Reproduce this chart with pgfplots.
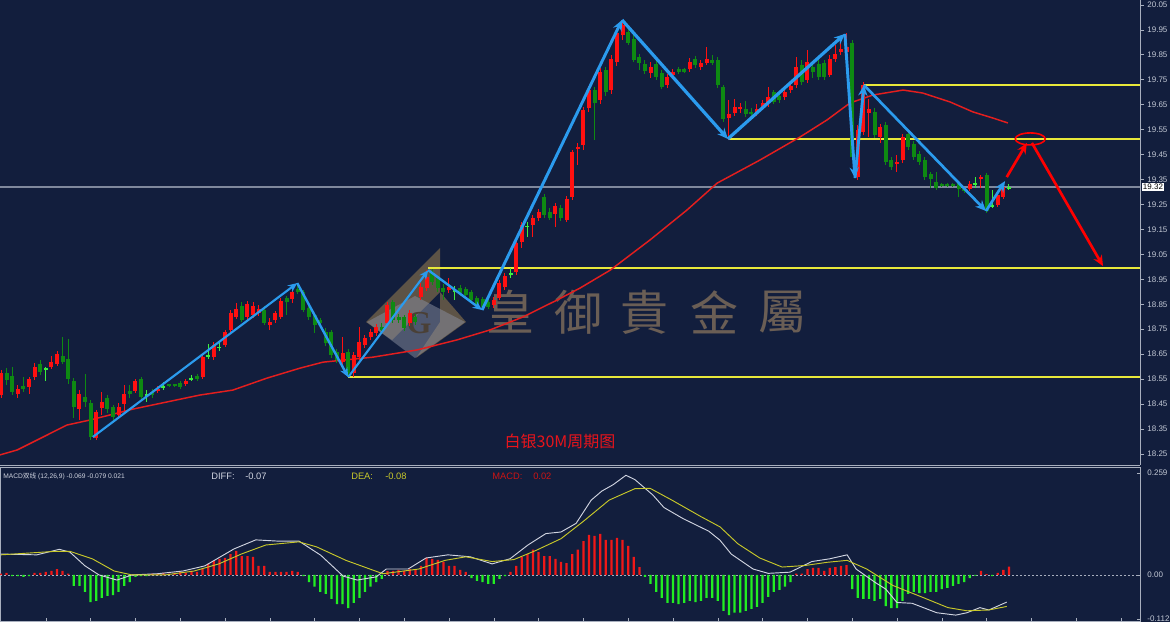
\documentclass[border=0pt]{standalone}
\usepackage{pgfplots}
\pgfplotsset{compat=1.18}
\usepackage{pgfplotstable}
\usepackage{fontspec}
\setmainfont{Liberation Sans}
\newfontfamily\serifg{Liberation Serif}
\newfontfamily\cjk{Noto Sans CJK SC}
\newfontfamily\cjktc{Noto Sans CJK TC}
\usetikzlibrary{arrows.meta}
\definecolor{bg}{HTML}{121E3D}
\definecolor{candlered}{HTML}{FF1010}
\definecolor{candlegreen}{HTML}{0E8A12}
\definecolor{dojigreen}{HTML}{3CF03C}
\definecolor{zzblue}{HTML}{2B9BEE}
\definecolor{axgray}{HTML}{A8AFBE}
\definecolor{ticktext}{HTML}{C4CAD6}
\definecolor{lvl}{HTML}{E8E83A}
\definecolor{marea}{HTML}{E41E1E}
\definecolor{pricegray}{HTML}{7F889C}
\definecolor{wm}{HTML}{6A5E55}
\definecolor{logogold}{HTML}{A88850}
\definecolor{logogray}{HTML}{8A90A2}
\definecolor{logoG}{HTML}{4A4036}
\definecolor{diffc}{HTML}{D0D4E0}
\definecolor{deac}{HTML}{C8C82A}
\definecolor{histred}{HTML}{F01818}
\definecolor{histgreen}{HTML}{22EE22}
\definecolor{titlered}{HTML}{E8141B}

\pgfplotstableread{
i o h l c
0 18.486 18.586 18.474 18.574
3 18.490 18.526 18.474 18.510
5 18.518 18.558 18.490 18.550
6 18.558 18.614 18.546 18.598
9 18.598 18.642 18.590 18.618
10 18.610 18.663 18.602 18.650
14 18.430 18.506 18.386 18.490
17 18.314 18.426 18.306 18.418
18 18.434 18.498 18.406 18.458
21 18.406 18.454 18.394 18.438
22 18.450 18.526 18.418 18.490
24 18.502 18.550 18.494 18.542
28 18.502 18.522 18.494 18.510
33 18.530 18.550 18.522 18.542
36 18.558 18.646 18.550 18.638
38 18.638 18.699 18.626 18.687
40 18.687 18.747 18.679 18.739
41 18.747 18.827 18.735 18.815
42 18.799 18.855 18.791 18.831
44 18.799 18.863 18.787 18.851
45 18.807 18.859 18.795 18.843
46 18.815 18.847 18.803 18.831
48 18.767 18.795 18.747 18.779
49 18.787 18.823 18.775 18.815
50 18.799 18.875 18.791 18.863
52 18.871 18.915 18.855 18.899
61 18.618 18.719 18.606 18.655
63 18.574 18.659 18.558 18.646
64 18.638 18.759 18.626 18.699
65 18.687 18.727 18.675 18.715
66 18.719 18.751 18.707 18.739
67 18.735 18.771 18.723 18.759
69 18.775 18.859 18.763 18.847
73 18.775 18.827 18.763 18.815
75 18.879 18.935 18.867 18.919
76 18.915 18.987 18.903 18.959
80 18.907 18.955 18.895 18.919
88 18.847 18.879 18.835 18.867
89 18.875 18.947 18.867 18.935
90 18.919 18.975 18.907 18.963
92 18.979 19.108 18.967 19.096
93 19.100 19.180 19.076 19.168
95 19.168 19.208 19.120 19.196
96 19.196 19.232 19.184 19.220
99 19.212 19.256 19.160 19.244
101 19.188 19.284 19.180 19.272
102 19.280 19.468 19.268 19.460
103 19.473 19.497 19.408 19.481
104 19.489 19.641 19.468 19.629
105 19.637 19.725 19.621 19.709
107 19.669 19.797 19.653 19.781
109 19.709 19.849 19.693 19.833
110 19.821 19.958 19.805 19.938
111 19.930 19.990 19.910 19.970
116 19.777 19.821 19.757 19.801
119 19.729 19.773 19.717 19.761
120 19.769 19.793 19.757 19.781
123 19.793 19.837 19.781 19.821
125 19.801 19.829 19.789 19.817
126 19.817 19.882 19.809 19.833
130 19.597 19.669 19.509 19.613
131 19.617 19.673 19.605 19.641
132 19.633 19.657 19.617 19.641
135 19.617 19.653 19.605 19.633
136 19.637 19.669 19.629 19.657
137 19.657 19.721 19.641 19.681
140 19.681 19.713 19.669 19.701
141 19.709 19.745 19.697 19.725
142 19.729 19.841 19.717 19.801
144 19.749 19.870 19.737 19.821
148 19.769 19.849 19.761 19.833
149 19.833 19.890 19.821 19.853
150 19.861 19.910 19.849 19.874
151 19.861 19.938 19.849 19.882
153 19.360 19.569 19.348 19.549
154 19.541 19.741 19.529 19.729
155 19.617 19.673 19.521 19.633
157 19.521 19.573 19.497 19.561
160 19.412 19.448 19.380 19.420
161 19.428 19.533 19.416 19.521
173 19.312 19.344 19.304 19.332
175 19.352 19.368 19.316 19.360
178 19.248 19.300 19.240 19.288
179 19.280 19.328 19.272 19.320
}\upc

\pgfplotstableread{
i o h l c
1 18.574 18.594 18.526 18.546
2 18.562 18.598 18.486 18.498
4 18.522 18.558 18.498 18.510
7 18.610 18.626 18.566 18.578
11 18.642 18.719 18.610 18.618
12 18.630 18.711 18.530 18.550
13 18.542 18.554 18.394 18.438
15 18.478 18.570 18.438 18.458
16 18.454 18.466 18.306 18.318
19 18.474 18.486 18.414 18.430
20 18.438 18.446 18.378 18.398
23 18.502 18.526 18.474 18.490
25 18.550 18.558 18.466 18.478
27 18.498 18.510 18.474 18.486
30 18.530 18.532 18.520 18.522
31 18.530 18.532 18.520 18.522
32 18.534 18.542 18.510 18.518
35 18.562 18.570 18.542 18.550
43 18.843 18.859 18.779 18.787
47 18.827 18.843 18.767 18.775
51 18.875 18.883 18.807 18.859
53 18.911 18.935 18.891 18.899
54 18.899 18.907 18.819 18.827
55 18.835 18.843 18.787 18.799
56 18.807 18.815 18.735 18.767
57 18.787 18.795 18.763 18.775
58 18.739 18.755 18.683 18.695
59 18.739 18.747 18.634 18.646
60 18.659 18.671 18.614 18.626
62 18.659 18.671 18.558 18.574
68 18.759 18.775 18.735 18.747
70 18.859 18.867 18.775 18.787
71 18.799 18.811 18.775 18.787
72 18.799 18.807 18.743 18.755
74 18.799 18.811 18.767 18.779
77 18.979 18.991 18.927 18.939
78 18.955 18.963 18.899 18.915
79 18.915 18.931 18.867 18.899
82 18.915 18.927 18.883 18.895
83 18.911 18.919 18.875 18.887
84 18.899 18.907 18.855 18.867
85 18.875 18.883 18.835 18.847
86 18.871 18.879 18.827 18.839
87 18.859 18.871 18.831 18.839
97 19.280 19.292 19.196 19.208
98 19.220 19.236 19.188 19.196
100 19.236 19.248 19.184 19.196
106 19.709 19.721 19.509 19.657
108 19.789 19.801 19.685 19.701
112 19.942 19.958 19.890 19.898
113 19.914 19.930 19.821 19.829
114 19.841 19.853 19.789 19.817
115 19.813 19.829 19.773 19.785
117 19.813 19.829 19.749 19.761
118 19.777 19.789 19.713 19.721
121 19.793 19.801 19.773 19.781
122 19.793 19.797 19.777 19.781
124 19.833 19.845 19.797 19.809
127 19.829 19.849 19.809 19.817
128 19.829 19.841 19.717 19.729
129 19.721 19.729 19.581 19.593
133 19.633 19.665 19.601 19.613
134 19.621 19.637 19.601 19.613
138 19.701 19.709 19.653 19.661
139 19.685 19.697 19.657 19.669
143 19.809 19.829 19.729 19.741
145 19.801 19.821 19.757 19.781
146 19.813 19.829 19.749 19.761
147 19.817 19.829 19.749 19.761
152 19.898 19.910 19.428 19.440
156 19.621 19.637 19.517 19.529
158 19.569 19.581 19.408 19.420
159 19.428 19.440 19.388 19.400
162 19.533 19.545 19.468 19.481
163 19.493 19.505 19.428 19.440
164 19.452 19.464 19.408 19.420
165 19.428 19.440 19.348 19.360
166 19.372 19.380 19.316 19.352
167 19.340 19.380 19.308 19.316
168 19.332 19.336 19.320 19.324
169 19.332 19.336 19.320 19.324
170 19.332 19.336 19.320 19.324
171 19.336 19.344 19.280 19.312
172 19.312 19.320 19.296 19.304
176 19.368 19.376 19.216 19.224
}\downc

\pgfplotstableread{
i o h l c
8 18.594 18.598 18.542 18.590
26 18.490 18.506 18.458 18.486
29 18.522 18.538 18.506 18.518
34 18.554 18.566 18.542 18.550
37 18.646 18.691 18.630 18.642
39 18.679 18.695 18.663 18.675
81 18.907 18.923 18.867 18.903
91 18.975 18.995 18.955 18.971
94 19.164 19.180 19.120 19.160
174 19.336 19.360 19.316 19.332
177 19.248 19.308 19.236 19.244
180 19.320 19.332 19.308 19.316
}\dojic

\pgfplotstableread{
i v
0 0.003
1 0.005
2 -0.003
3 -0.003
4 -0.005
5 -0.003
6 0.005
7 0.005
8 0.008
9 0.010
10 0.015
11 0.010
12 0.003
13 -0.028
14 -0.028
15 -0.043
16 -0.069
17 -0.066
18 -0.058
19 -0.053
20 -0.051
21 -0.043
22 -0.028
23 -0.018
24 -0.005
25 -0.003
26 -0.003
27 0.003
28 0.003
29 0.005
30 0.003
31 0.005
32 0.008
33 0.005
34 0.010
35 0.008
36 0.015
37 0.028
38 0.036
39 0.041
40 0.043
41 0.053
42 0.061
43 0.048
44 0.048
45 0.046
46 0.023
47 0.023
48 0.008
49 0.008
50 0.008
51 0.008
52 0.010
53 0.008
54 -0.003
55 -0.018
56 -0.030
57 -0.043
58 -0.048
59 -0.061
60 -0.074
61 -0.074
62 -0.084
63 -0.071
64 -0.058
65 -0.043
66 -0.030
67 -0.018
68 -0.010
69 0.010
70 0.010
71 0.013
72 0.010
73 0.015
74 0.013
75 0.023
76 0.043
77 0.041
78 0.038
79 0.033
80 0.023
81 0.023
82 0.013
83 0.008
84 -0.008
85 -0.015
86 -0.018
87 -0.023
88 -0.023
89 -0.010
90 -0.003
91 0.008
92 0.023
93 0.046
94 0.053
95 0.064
96 0.058
97 0.048
98 0.048
99 0.041
100 0.033
101 0.030
102 0.053
103 0.064
104 0.086
105 0.102
106 0.099
107 0.104
108 0.089
109 0.089
110 0.094
111 0.089
112 0.074
113 0.046
114 0.020
115 -0.005
116 -0.023
117 -0.043
118 -0.058
119 -0.071
120 -0.071
121 -0.074
122 -0.071
123 -0.066
124 -0.069
125 -0.066
126 -0.058
127 -0.058
128 -0.066
129 -0.091
130 -0.102
131 -0.096
132 -0.096
133 -0.091
134 -0.086
135 -0.081
136 -0.071
137 -0.056
138 -0.043
139 -0.038
140 -0.030
141 -0.018
142 0.003
143 0.003
144 0.015
145 0.018
146 0.018
147 0.010
148 0.018
149 0.020
150 0.023
151 0.025
152 -0.036
153 -0.058
154 -0.061
155 -0.061
156 -0.066
157 -0.061
158 -0.079
159 -0.084
160 -0.084
161 -0.066
162 -0.048
163 -0.043
164 -0.046
165 -0.046
166 -0.043
167 -0.043
168 -0.036
169 -0.033
170 -0.028
171 -0.023
172 -0.018
173 -0.008
174 -0.002
175 0.010
176 0.002
177 -0.003
178 0.005
179 0.013
180 0.021
}\histtab

\pgfplotsset{
  wick/.style={draw=none, mark=none, forget plot,
    error bars/.cd, y dir=both, y explicit, error mark=none,
    error bar style={draw=#1, line width=0.75pt}},
  body/.style={draw=none, mark=none, forget plot,
    error bars/.cd, y dir=both, y explicit, error mark=none,
    error bar style={draw=#1, line width=3pt}},
}

\begin{document}
\begin{tikzpicture}
\fill[bg] (0,0) rectangle (877.5pt,-466.5pt);
\begin{scope}[x=0.75pt,y=-0.75pt]
  % logo
  \fill[logogold, opacity=0.5] (366,322) -- (440,248) -- (440,292) -- (392,340) -- cycle;
  \fill[logogold, opacity=0.5] (440,292) -- (466,322) -- (416,358) -- (440,322) -- cycle;
  \fill[logogray, opacity=0.5] (367,322) -- (415,296) -- (465,322) -- (415,358) -- cycle;
  \node[text=logoG, font=\serifg\fontsize{24}{26}\selectfont\bfseries] at (419,323) {G};
  % watermark
  \foreach \cx/\ch in {510/皇,578/御,644/貴,714/金,782/屬}
    \node[text=wm, font=\cjktc\fontsize{36}{40}\selectfont] at (\cx,312) {\ch};
  % title
  \node[text=titlered, font=\cjk\fontsize{12}{14}\selectfont] at (560,441) {白银30M周期图};
\end{scope}

\begin{axis}[
  at={(0pt,0pt)}, anchor=north west,
  width=855pt, height=348.75pt, scale only axis,
  xmin=-0.18, xmax=203.4, ymin=18.2056, ymax=20.070,
  axis line style={draw=none},
  xtick=\empty,
  ytick={18.25,18.35,18.45,18.55,18.65,18.75,18.85,18.95,19.05,19.15,19.25,19.35,19.45,19.55,19.65,19.75,19.85,19.95,20.05},
  ytick pos=right, yticklabel pos=right,
  tick align=outside, major tick length=3pt,
  ytick style={draw=axgray, line width=0.6pt},
  yticklabel style={font=\fontsize{6}{7}\selectfont, text=ticktext, xshift=-1pt,
    /pgf/number format/.cd, fixed, fixed zerofill, precision=2, assume math mode=true},
  clip mode=individual,
]
% panel borders
\draw[axgray, line width=0.75pt] (rel axis cs:1,0) -- (rel axis cs:1,1);
\draw[axgray, line width=0.75pt] (rel axis cs:0,0) -- (rel axis cs:1,0);
\draw[axgray!70, line width=0.75pt] (rel axis cs:0,0) -- (rel axis cs:0,1);
% current price line
\addplot[pricegray, line width=0.9pt, forget plot] coordinates {(-0.18,19.32) (203.4,19.32)};
% levels
\addplot[lvl, line width=1pt, forget plot] coordinates {(154.1,19.729) (203.4,19.729)};
\addplot[lvl, line width=1pt, forget plot] coordinates {(129.8,19.513) (203.4,19.513)};
\addplot[lvl, line width=1pt, forget plot] coordinates {(76.3,18.995) (203.4,18.995)};
\addplot[lvl, line width=1pt, forget plot] coordinates {(62.0,18.558) (203.4,18.558)};
% moving average
\addplot[marea, line width=1.1pt, forget plot] coordinates {
(-0.2,18.246) (2.9,18.266) (11.8,18.366) (15.9,18.386) (23.6,18.430) (35.5,18.486)
(41.4,18.506) (47.5,18.554) (53.4,18.594) (57.5,18.618) (66.4,18.638) (74.3,18.667)
(81.4,18.707) (87.3,18.747) (93.2,18.799) (99.3,18.867) (103.4,18.915) (108.8,18.987)
(115.9,19.108) (122.5,19.228) (127.9,19.336) (135.5,19.428) (142.7,19.521) (147.5,19.589)
(151.6,19.657) (155.7,19.689) (161.1,19.709) (164.6,19.697) (169.5,19.661) (173.6,19.621)
(177.1,19.597) (179.8,19.577)};
% candles: wicks then bodies
\addplot[wick=candlered] table[x=i, y expr={(\thisrow{h}+\thisrow{l})/2}, y error expr={(\thisrow{h}-\thisrow{l})/2}] {\upc};
\addplot[body=candlered] table[x=i, y expr={(\thisrow{o}+\thisrow{c})/2}, y error expr={abs(\thisrow{c}-\thisrow{o})/2}] {\upc};
\addplot[wick=candlegreen] table[x=i, y expr={(\thisrow{h}+\thisrow{l})/2}, y error expr={(\thisrow{h}-\thisrow{l})/2}] {\downc};
\addplot[body=candlegreen] table[x=i, y expr={(\thisrow{o}+\thisrow{c})/2}, y error expr={abs(\thisrow{c}-\thisrow{o})/2}] {\downc};
\addplot[wick=dojigreen] table[x=i, y expr={(\thisrow{h}+\thisrow{l})/2}, y error expr={(\thisrow{h}-\thisrow{l})/2}] {\dojic};
\addplot[body=dojigreen] table[x=i, y expr={(\thisrow{o}+\thisrow{c})/2}, y error expr={abs(\thisrow{c}-\thisrow{o})/2}] {\dojic};
% zigzag
\addplot[zzblue, line width=1.6pt, -{Stealth[length=7pt,width=6pt]}, forget plot] coordinates {(16.4,18.318) (52.9,18.935)};
\addplot[zzblue, line width=1.8pt, -{Stealth[length=7pt,width=6pt]}, forget plot] coordinates {(52.9,18.935) (62.0,18.558)};
\addplot[zzblue, line width=1.6pt, -{Stealth[length=7pt,width=6pt]}, forget plot] coordinates {(62.0,18.558) (76.3,18.987)};
\addplot[zzblue, line width=1.8pt, -{Stealth[length=7pt,width=6pt]}, forget plot] coordinates {(76.3,18.987) (85.9,18.827)};
\addplot[zzblue, line width=2.2pt, -{Stealth[length=8pt,width=7pt]}, forget plot] coordinates {(85.9,18.827) (110.9,19.990)};
\addplot[zzblue, line width=2.4pt, -{Stealth[length=8pt,width=7pt]}, forget plot] coordinates {(110.9,19.990) (129.8,19.513)};
\addplot[zzblue, line width=2.4pt, -{Stealth[length=8pt,width=7pt]}, forget plot] coordinates {(129.8,19.513) (150.7,19.934)};
\addplot[zzblue, line width=2.2pt, -{Stealth[length=8pt,width=7pt]}, forget plot] coordinates {(150.7,19.934) (152.5,19.356)};
\addplot[zzblue, line width=2.2pt, -{Stealth[length=8pt,width=7pt]}, forget plot] coordinates {(152.5,19.356) (154.1,19.729)};
\addplot[zzblue, line width=2.0pt, -{Stealth[length=8pt,width=7pt]}, forget plot] coordinates {(154.1,19.729) (175.9,19.224)};
\addplot[zzblue, line width=2.0pt, -{Stealth[length=8pt,width=7pt]}, forget plot] coordinates {(175.9,19.224) (179.3,19.344)};
% forecast arrows
\addplot[red, line width=2pt, -{Stealth[length=8pt,width=7pt]}, forget plot] coordinates {(179.6,19.360) (183.2,19.497)};
\addplot[red, line width=2pt, -{Stealth[length=8pt,width=7pt]}, forget plot] coordinates {(184.1,19.497) (196.8,19.003)};
\draw[red, line width=1.2pt] (axis cs:183.8,19.513) ellipse [x radius=11.25pt, y radius=4.5pt];
% current price box
\node[anchor=west, fill=white, text=black, inner sep=1pt, font=\fontsize{6}{7}\selectfont, xshift=1pt] at (axis cs:203.4,19.32) {19.32};
\end{axis}

\begin{axis}[
  at={(0pt,-350.25pt)}, anchor=north west,
  width=855pt, height=115.5pt, scale only axis,
  xmin=-0.18, xmax=203.4, ymin=-0.117, ymax=0.274,
  axis line style={draw=axgray, line width=0.75pt},
  xtick={8,16,...,200}, xticklabels={}, xtick pos=bottom,
  tick align=inside, major tick length=2pt,
  xtick style={draw=axgray},
  ytick={-0.112,0,0.259}, yticklabels={-0.112,0.00,0.259},
  ytick pos=right, yticklabel pos=right,
  ytick style={draw=axgray, line width=0.6pt},
  yticklabel style={font=\fontsize{6}{7}\selectfont, text=ticktext, xshift=2pt},
  clip mode=individual,
]
\addplot[axgray, line width=0.6pt, dash pattern=on 1.5pt off 1.5pt, forget plot] coordinates {(-0.18,0) (203.4,0)};
\addplot[ybar, bar width=1.7pt, bar shift=0pt, fill=histred, draw=none, restrict y to domain=0:1, forget plot] table[x=i, y=v] {\histtab};
\addplot[ybar, bar width=1.7pt, bar shift=0pt, fill=histgreen, draw=none, restrict y to domain=-1:0, forget plot] table[x=i, y=v] {\histtab};
% DIFF
\addplot[diffc, line width=0.7pt, forget plot] coordinates {
(0,0.053) (6.4,0.051) (10.4,0.065) (12.3,0.058) (15,0.023) (17.5,0.000) (20.7,-0.013)
(23.4,0.000) (27.9,0.003) (32.5,0.010) (36.4,0.023) (41.6,0.066) (45.5,0.089) (49.3,0.086)
(53.2,0.086) (57.1,0.050) (61.1,-0.003) (63.6,-0.013) (67,-0.005) (68.8,0.015) (72.7,0.015)
(75.9,0.043) (79.8,0.051) (83.8,0.046) (87.7,0.028) (90.9,0.041) (94.1,0.076) (97.3,0.105)
(100,0.109) (102.7,0.131) (105.4,0.190) (107.3,0.213) (109.3,0.229) (111.6,0.253)
(113.2,0.242) (116.4,0.203) (118.4,0.171) (121.8,0.143) (126.4,0.111) (128.4,0.088)
(130.4,0.053) (134.3,0.015) (137,0.004) (140.9,0.007) (144.8,0.034) (148,0.041)
(151.1,0.051) (152.7,0.015) (156.1,-0.019) (158,-0.036) (160,-0.070) (162.7,-0.072)
(167.1,-0.096) (170.5,-0.102) (172.5,-0.096) (174.8,-0.083) (176.4,-0.089) (179.6,-0.069)};
% DEA
\addplot[deac, line width=0.7pt, forget plot] coordinates {
(0,0.051) (9.8,0.060) (12.3,0.060) (16.3,0.041) (20.2,0.010) (23.4,0.000) (29.3,0.000)
(34.5,0.010) (38.9,0.028) (42.9,0.053) (47.3,0.076) (53.2,0.084) (56.4,0.071) (61.6,0.037)
(68.2,0.003) (74.6,0.015) (79.3,0.037) (83,0.046) (87.7,0.034) (91.6,0.039) (95.5,0.062)
(100,0.092) (103.9,0.135) (108.6,0.190) (113.2,0.219) (115.9,0.220) (119.8,0.190)
(125,0.148) (128.4,0.122) (131.6,0.079) (135.5,0.043) (139.5,0.020) (143.6,0.024)
(147.5,0.032) (151.1,0.037) (154.6,0.015) (159.3,-0.027) (164.6,-0.057) (169.1,-0.083)
(172.5,-0.091) (176.4,-0.089) (179.6,-0.080)};
\end{axis}

\begin{scope}[x=0.75pt,y=-0.75pt]
  \node[anchor=west, text=diffc, font=\fontsize{5}{6}\selectfont, inner sep=0pt] at (3,476) {MACD{\cjk 双线} (12,26,9) -0.069 -0.079 0.021};
  \node[anchor=west, text=diffc, font=\fontsize{7}{8}\selectfont, inner sep=0pt] at (211,476) {DIFF:};
  \node[anchor=west, text=diffc, font=\fontsize{7}{8}\selectfont, inner sep=0pt] at (245,476) {-0.07};
  \node[anchor=west, text=deac, font=\fontsize{7}{8}\selectfont, inner sep=0pt] at (351,476) {DEA:};
  \node[anchor=west, text=deac, font=\fontsize{7}{8}\selectfont, inner sep=0pt] at (385,476) {-0.08};
  \node[anchor=west, text=histred!85!black, font=\fontsize{7}{8}\selectfont, inner sep=0pt] at (492,476) {MACD:};
  \node[anchor=west, text=histred!85!black, font=\fontsize{7}{8}\selectfont, inner sep=0pt] at (533,476) {0.02};
\end{scope}
\pgfresetboundingbox
\path (0,0) rectangle (877.5pt,-466.5pt);
\end{tikzpicture}
\end{document}
